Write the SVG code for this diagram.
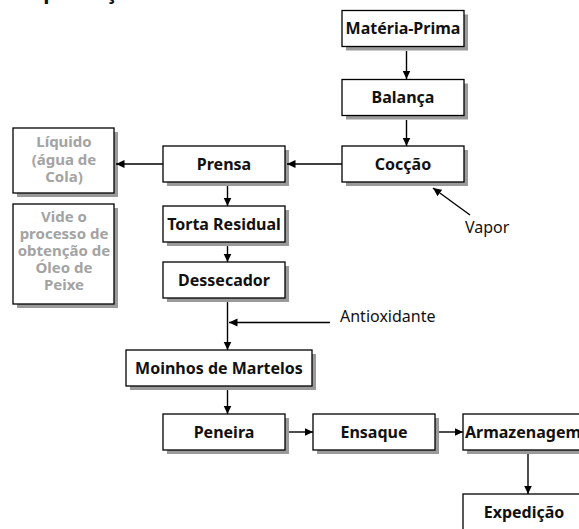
<svg xmlns="http://www.w3.org/2000/svg" width="579" height="529" viewBox="0 0 579 529">
  <defs>
    <style>
      .box { fill: #ffffff; stroke: #000000; stroke-width: 1.3; }
      .shadow { fill: #9a9a9a; }
      .lbl { font-family: "Noto Sans", "Open Sans", "DejaVu Sans", sans-serif; font-weight: 700; font-size: 16px; fill: #111111; text-anchor: middle; }
      .side { font-family: "Noto Sans", "Open Sans", "DejaVu Sans", sans-serif; font-weight: 700; font-size: 15px; fill: #a3a3a3; text-anchor: middle; }
      .note { font-family: "Noto Sans", "Open Sans", "DejaVu Sans", sans-serif; font-size: 16px; fill: #111111; }
      .title { font-family: "Noto Sans", "Open Sans", "DejaVu Sans", sans-serif; font-weight: 700; font-size: 21px; fill: #111111; }
      .wire { fill: none; stroke: #000000; stroke-width: 1.4; marker-end: url(#ah); }
    </style>
    <marker id="ah" markerWidth="9" markerHeight="9" refX="8.5" refY="4.5" orient="auto" markerUnits="userSpaceOnUse">
      <path d="M0,0.5 L8.5,4.5 L0,8.5 z" fill="#000000"/>
    </marker>
  </defs>

  <!-- heading, clipped by the top edge -->
  <text class="title" x="12" y="-1">de produção</text>

  <!-- side notes -->
  <g id="liquido">
    <rect class="shadow" x="17" y="132" width="101" height="65"/>
    <rect class="box" x="13" y="128" width="101" height="65"/>
    <text class="side" x="64" y="147">Líquido</text>
    <text class="side" x="64" y="165">(água de</text>
    <text class="side" x="64" y="182">Cola)</text>
  </g>
  <g id="vide">
    <rect class="shadow" x="17" y="208" width="101" height="100"/>
    <rect class="box" x="13" y="204" width="101" height="100"/>
    <text class="side" x="64" y="222">Vide o</text>
    <text class="side" x="64" y="239">processo de</text>
    <text class="side" x="64" y="256">obtenção de</text>
    <text class="side" x="64" y="273">Óleo de</text>
    <text class="side" x="64" y="290">Peixe</text>
  </g>

  <!-- process steps -->
  <g id="materia-prima">
    <rect class="shadow" x="346" y="14.5" width="122" height="36"/>
    <rect class="box" x="342" y="10.5" width="122" height="36"/>
    <text class="lbl" x="403" y="34">Matéria-Prima</text>
  </g>
  <g id="balanca">
    <rect class="shadow" x="346" y="83.5" width="122" height="36"/>
    <rect class="box" x="342" y="79.5" width="122" height="36"/>
    <text class="lbl" x="403" y="103">Balança</text>
  </g>
  <g id="coccao">
    <rect class="shadow" x="346" y="150" width="122" height="36"/>
    <rect class="box" x="342" y="146" width="122" height="36"/>
    <text class="lbl" x="403" y="169.5">Cocção</text>
  </g>
  <g id="prensa">
    <rect class="shadow" x="167" y="150" width="122" height="36"/>
    <rect class="box" x="163" y="146" width="122" height="36"/>
    <text class="lbl" x="224" y="169.5">Prensa</text>
  </g>
  <g id="torta-residual">
    <rect class="shadow" x="167" y="210" width="122" height="36"/>
    <rect class="box" x="163" y="206" width="122" height="36"/>
    <text class="lbl" x="224" y="229.5">Torta Residual</text>
  </g>
  <g id="dessecador">
    <rect class="shadow" x="167" y="266" width="122" height="36"/>
    <rect class="box" x="163" y="262" width="122" height="36"/>
    <text class="lbl" x="224" y="285.5">Dessecador</text>
  </g>
  <g id="moinhos">
    <rect class="shadow" x="130" y="354" width="186" height="36"/>
    <rect class="box" x="126" y="350" width="186" height="36"/>
    <text class="lbl" x="219" y="373.5">Moinhos de Martelos</text>
  </g>
  <g id="peneira">
    <rect class="shadow" x="167" y="418" width="122" height="36"/>
    <rect class="box" x="163" y="414" width="122" height="36"/>
    <text class="lbl" x="224" y="437.5">Peneira</text>
  </g>
  <g id="ensaque">
    <rect class="shadow" x="317" y="418" width="122" height="36"/>
    <rect class="box" x="313" y="414" width="122" height="36"/>
    <text class="lbl" x="374" y="437.5">Ensaque</text>
  </g>
  <g id="armazenagem">
    <rect class="shadow" x="467" y="418" width="122" height="36"/>
    <rect class="box" x="463" y="414" width="122" height="36"/>
    <text class="lbl" x="523" y="437.5">Armazenagem</text>
  </g>
  <g id="expedicao">
    <rect class="shadow" x="467" y="498" width="122" height="36"/>
    <rect class="box" x="463" y="494" width="122" height="36"/>
    <text class="lbl" x="524" y="517.5">Expedição</text>
  </g>

  <!-- inputs -->
  <text class="note" x="465" y="233">Vapor</text>
  <text class="note" x="340" y="322">Antioxidante</text>

  <!-- connectors -->
  <g id="connectors">
    <line class="wire" x1="406.5" y1="51" x2="406.5" y2="79"/>
    <line class="wire" x1="406.5" y1="120" x2="406.5" y2="146"/>
    <line class="wire" x1="342" y1="164" x2="287" y2="164"/>
    <line class="wire" x1="163" y1="164" x2="116" y2="164"/>
    <line class="wire" x1="227.5" y1="186" x2="227.5" y2="206"/>
    <line class="wire" x1="227.5" y1="246" x2="227.5" y2="262"/>
    <line class="wire" x1="227.5" y1="302" x2="227.5" y2="350"/>
    <line class="wire" x1="330" y1="322.5" x2="229" y2="322.5"/>
    <line class="wire" x1="227.5" y1="390" x2="227.5" y2="414"/>
    <line class="wire" x1="289" y1="432" x2="313" y2="432"/>
    <line class="wire" x1="439" y1="432" x2="463" y2="432"/>
    <line class="wire" x1="528" y1="454" x2="528" y2="494"/>
    <line class="wire" x1="470" y1="215" x2="433" y2="188"/>
  </g>
</svg>
